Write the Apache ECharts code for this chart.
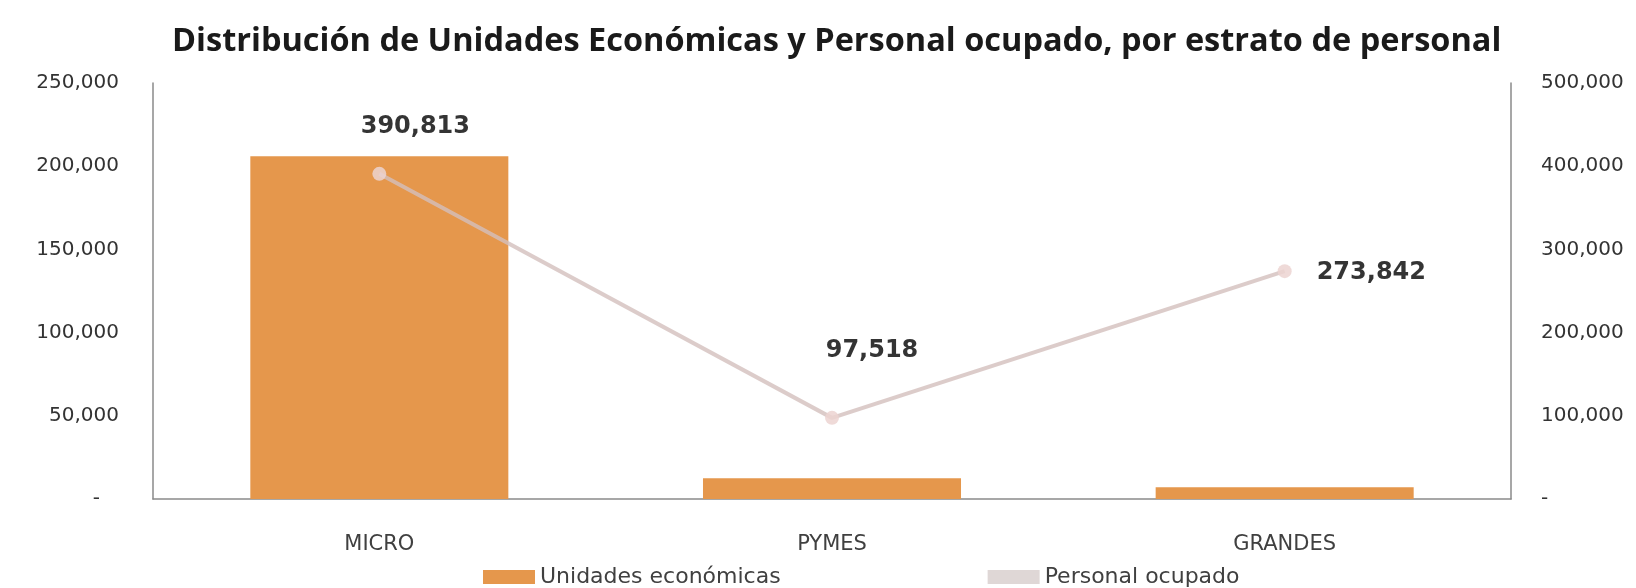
<!DOCTYPE html>
<html>
<head>
<meta charset="utf-8">
<script src="https://cdn.jsdelivr.net/npm/echarts@6/dist/echarts.min.js"></script>
<style>html,body{margin:0;padding:0;background:#fff;}#c{width:1636px;height:588px;}</style>
</head>
<body>
<div id="c"></div>
<script>
const titleText = 'Distribución de Unidades Económicas y Personal ocupado, por estrato de personal';
const categories = ['MICRO', 'PYMES', 'GRANDES'];
const unidadesEconomicas = [206000, 12500, 7000];
const personalOcupado = [390813, 97518, 273842];
const seriesNames = ['Unidades económicas', 'Personal ocupado'];
const leftTicks = [0, 50000, 100000, 150000, 200000, 250000];
const rightTicks = [0, 100000, 200000, 300000, 400000, 500000];

const fmt = v => v === 0 ? '-' : v.toLocaleString('en-US');
const labelPlacement = [
  {position: 'top', offset: [36, -23]},
  {position: 'top', offset: [40, -43]},
  {position: 'right', offset: [20, 2]}
];

const chart = echarts.init(document.getElementById('c'));
chart.setOption({
  backgroundColor: '#fff',
  animation: false,
  title: {
    text: titleText,
    left: 167,
    top: 20,
    textStyle: {fontFamily: 'Open Sans', fontWeight: 'bold', fontSize: 32.5, color: '#1a1a1a'}
  },
  legend: {
    left: 478,
    top: 561,
    itemGap: 207,
    itemWidth: 52,
    itemHeight: 14,
    textStyle: {fontFamily: 'DejaVu Sans', fontSize: 22, color: '#404040'},
    data: [
      {name: seriesNames[0], icon: 'rect'},
      {name: seriesNames[1], icon: 'rect', itemStyle: {color: '#d9d0cf'}}
    ]
  },
  grid: {left: 153, right: 125, top: 83, bottom: 89},
  xAxis: {
    type: 'category',
    data: categories,
    axisLine: {lineStyle: {color: '#8a8a8a', width: 1.5}},
    axisTick: {show: false},
    axisLabel: {fontFamily: 'DejaVu Sans', fontSize: 21, color: '#404040', margin: 35}
  },
  yAxis: [
    {
      type: 'value', min: 0, max: 250000, interval: 50000,
      axisLine: {show: true, lineStyle: {color: '#8a8a8a', width: 1.5}},
      axisTick: {show: false},
      splitLine: {show: false},
      axisLabel: {fontFamily: 'DejaVu Sans', fontSize: 20, color: '#333', margin: 34,
        formatter: v => v === 0 ? '-   ' : fmt(v)}
    },
    {
      type: 'value', min: 0, max: 500000, interval: 100000,
      axisLine: {show: true, lineStyle: {color: '#8a8a8a', width: 1.5}},
      axisTick: {show: false},
      splitLine: {show: false},
      axisLabel: {fontFamily: 'DejaVu Sans', fontSize: 20, color: '#333', margin: 30,
        formatter: fmt}
    }
  ],
  series: [
    {
      name: seriesNames[0],
      type: 'bar',
      yAxisIndex: 0,
      barWidth: '57%',
      itemStyle: {color: '#e5974c'},
      data: unidadesEconomicas
    },
    {
      name: seriesNames[1],
      type: 'line',
      yAxisIndex: 1,
      symbol: 'circle',
      symbolSize: 14,
      lineStyle: {color: '#d3bfbd', width: 4, opacity: 0.8},
      itemStyle: {color: '#ecd3d1', opacity: 0.85},
      label: {
        show: true,
        fontFamily: 'DejaVu Sans', fontWeight: 'bold', fontSize: 24, color: '#111',
        formatter: p => fmt(p.value)
      },
      data: personalOcupado.map((v, i) => ({value: v, label: labelPlacement[i]}))
    }
  ]
});
</script>
</body>
</html>
